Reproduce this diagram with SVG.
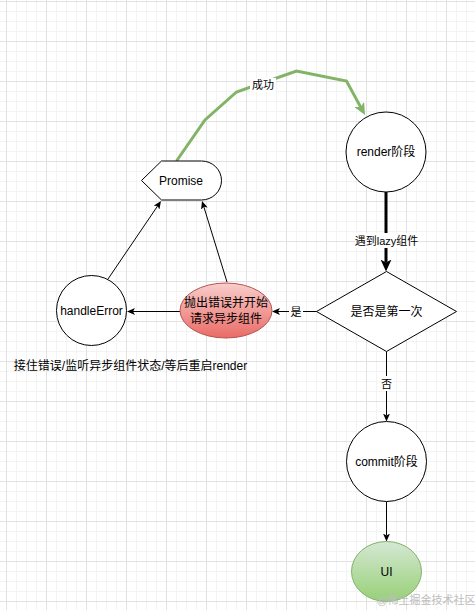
<svg xmlns="http://www.w3.org/2000/svg" width="475" height="610" viewBox="0 0 475 610">
<defs>
<style>
text{font-family:"Liberation Sans","Noto Sans CJK SC",sans-serif;fill:#000;text-anchor:middle;dominant-baseline:central}
.t12{font-size:12px}
.t11{font-size:11px}
.node{stroke:#000;stroke-width:1;fill:#fff}
.edge{fill:none;stroke:#000;stroke-width:1}
.lbl{fill:#fff}
</style>
<pattern id="minor" width="10" height="10" patternUnits="userSpaceOnUse" x="6" y="1">
<path d="M0 0.5H10M0.5 0V10" stroke="#f3f3f3" stroke-width="1" fill="none"/>
</pattern>
<pattern id="major" width="40" height="40" patternUnits="userSpaceOnUse" x="6" y="1">
<path d="M0 0.5H40M0.5 0V40" stroke="#e2e2e2" stroke-width="1" fill="none"/>
</pattern>
<linearGradient id="gRed" x1="0" y1="0" x2="0" y2="1">
<stop offset="0" stop-color="#f8cecc"/><stop offset="1" stop-color="#ea6b66"/>
</linearGradient>
<linearGradient id="gGreen" x1="0" y1="0" x2="0" y2="1">
<stop offset="0" stop-color="#d5e8d4"/><stop offset="1" stop-color="#97d077"/>
</linearGradient>
<marker id="arr" markerUnits="userSpaceOnUse" markerWidth="8" markerHeight="7" viewBox="0 0 8 7" refX="2" refY="3.5" orient="auto">
<path d="M0,0L8,3.5L0,7L2,3.5Z" fill="#000"/>
</marker>
<marker id="arrBig" markerUnits="userSpaceOnUse" markerWidth="12" markerHeight="11" viewBox="0 0 12 11" refX="3" refY="5.5" orient="auto">
<path d="M0,0L12,5.5L0,11L3,5.5Z" fill="#000"/>
</marker>
<marker id="arrGreen" markerUnits="userSpaceOnUse" markerWidth="12" markerHeight="11" viewBox="0 0 12 11" refX="3" refY="5.5" orient="auto">
<path d="M0,0L12,5.5L0,11L3,5.5Z" fill="#82b366"/>
</marker>
</defs>
<rect width="475" height="610" fill="#fff"/>
<rect width="475" height="610" fill="url(#minor)"/>
<rect width="475" height="610" fill="url(#major)"/>

<g id="connectors">
<path class="edge" d="M176.5,161L205,120L236.5,92L296.5,71L346.5,81L360.7,107.1" stroke="#82b366" style="stroke:#82b366;stroke-width:3" marker-end="url(#arrGreen)"/>
<rect class="lbl" x="250" y="78" width="26" height="14"/>
<text class="t11" x="263" y="85">成功</text>

<path class="edge" d="M386,192V262.5" style="stroke-width:3" marker-end="url(#arrBig)"/>
<rect class="lbl" x="355" y="233" width="63" height="15"/>
<text class="t11" x="386.5" y="240.5">遇到lazy组件</text>

<path class="edge" d="M316.5,311.5H278" marker-end="url(#arr)"/>
<rect class="lbl" x="289" y="304" width="14" height="15"/>
<text class="t11" x="296" y="311.5">是</text>

<path class="edge" d="M180,311.5H133" marker-end="url(#arr)"/>
<path class="edge" d="M108,279L157.6,206" marker-end="url(#arr)"/>
<path class="edge" d="M227,282L203.8,206.7" marker-end="url(#arr)"/>

<path class="edge" d="M386.5,351.5V415.5" marker-end="url(#arr)"/>
<rect class="lbl" x="380" y="376" width="13" height="15"/>
<text class="t11" x="386.5" y="383.5">否</text>

<path class="edge" d="M386.5,501.5V535.5" marker-end="url(#arr)"/>
</g>

<g id="promise">
<path class="node" d="M141.5,180.5L161.5,161H201.5A20,19.5 0 0 1 201.5,200H161.5Z"/>
<text class="t12" x="181" y="180.5">Promise</text>
</g>
<g id="render">
<circle class="node" cx="386" cy="152" r="40"/>
<text class="t12" x="386" y="152">render阶段</text>
</g>
<g id="decision">
<path class="node" d="M316.5,311.5L386.5,271.5L456.5,311.5L386.5,351.5Z"/>
<text class="t12" x="386.5" y="311.5">是否是第一次</text>
</g>
<g id="throw">
<ellipse cx="226" cy="310.5" rx="46" ry="27.5" fill="url(#gRed)" stroke="#b85450" stroke-width="1"/>
<text class="t12" x="226" y="303">抛出错误并开始</text>
<text class="t12" x="226" y="318.5">请求异步组件</text>
</g>
<g id="handleError">
<circle class="node" cx="91.5" cy="310.5" r="35"/>
<text class="t12" x="91.5" y="310.5">handleError</text>
</g>
<g id="note">
<text class="t12" x="130.5" y="366">接住错误/监听异步组件状态/等后重启render</text>
</g>
<g id="commit">
<circle class="node" cx="386.5" cy="461.5" r="40"/>
<text class="t12" x="386.5" y="461.5">commit阶段</text>
</g>
<g id="ui">
<ellipse cx="386.5" cy="571.5" rx="35" ry="30" fill="url(#gGreen)" stroke="#82b366" stroke-width="1"/>
<text class="t12" x="386.5" y="571.5">UI</text>
</g>
<text x="426" y="600" style="font-size:11px;fill:#bdbdbd">@稀土掘金技术社区</text>
</svg>
